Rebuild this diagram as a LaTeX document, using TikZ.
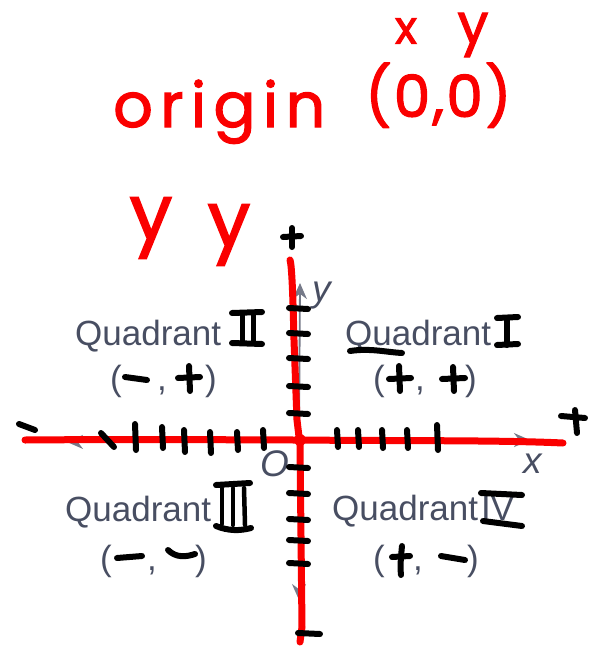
\documentclass[tikz,border=0pt]{standalone}
\usepackage{fontspec}
\setmainfont{Liberation Sans}
\newfontfamily\handfont[LetterSpace=12,FakeBold=2]{Poppins}
\newfontfamily\handfontb[LetterSpace=4,FakeBold=2]{Poppins}
\usetikzlibrary{arrows.meta}
\definecolor{txtgray}{RGB}{72,78,98}
\definecolor{penred}{RGB}{250,0,0}
\begin{document}
\begin{tikzpicture}[x=1pt,y=-1pt,
  redpen/.style={draw=penred,line width=7pt,line cap=round,line join=round},
  blackpen/.style={draw=black,line width=6pt,line cap=round,line join=round},
  grayaxis/.style={draw=txtgray!75,line width=1.8pt},
  grayarrow/.style={-{Stealth[length=16pt,width=14pt]}},
  qtext/.style={text=txtgray,font=\fontsize{35}{40}\selectfont,inner sep=0pt},
  lbltext/.style={text=txtgray,font=\fontsize{37}{40}\selectfont\itshape,inner sep=0pt},
  redtext/.style={text=penred,inner sep=0pt},
]
\useasboundingbox (0,0) rectangle (589,646);

% ---------- printed (gray) coordinate plane ----------
\coordinate (xl) at (67,442);
\coordinate (xr) at (530,440);
\coordinate (yt) at (300,283);
\coordinate (yb) at (299,600);
\coordinate (oo) at (299,441);
\draw[grayaxis,grayarrow] (oo) -- (xl);
\draw[grayaxis,grayarrow] (oo) -- (xr);
\draw[grayaxis,grayarrow] (oo) -- (yt);
\draw[grayaxis,grayarrow] (oo) -- (yb);

\node[lbltext] (ylbl) at (322,296) {y};
\node[lbltext] (xlbl) at (533,464) {x};
\node[lbltext] (olbl) at (275,464) {O};

% quadrant captions
\node[qtext,anchor=base west] (q2) at (75,345) {Quadrant};
\node[qtext,anchor=base west] (q1) at (345,345) {Quadrant};
\node[qtext,anchor=base west] (q3) at (65,521) {Quadrant};
\node[qtext,anchor=base west] (q4) at (332,520) {Quadrant};
\node[qtext,anchor=base west] (q4n) at (481,520) {IV};

% parentheses and commas
\node[qtext,anchor=base west] (p2l) at (110,390) {(};
\node[qtext,anchor=base west] (p2c) at (157,390) {,};
\node[qtext,anchor=base east] (p2r) at (217,390) {)};
\node[qtext,anchor=base west] (p1l) at (373,390) {(};
\node[qtext,anchor=base west] (p1c) at (415,390) {,};
\node[qtext,anchor=base east] (p1r) at (477,390) {)};
\node[qtext,anchor=base west] (p3l) at (100,570) {(};
\node[qtext,anchor=base west] (p3c) at (147,570) {,};
\node[qtext,anchor=base east] (p3r) at (207,570) {)};
\node[qtext,anchor=base west] (p4l) at (373,570) {(};
\node[qtext,anchor=base west] (p4c) at (413,570) {,};
\node[qtext,anchor=base east] (p4r) at (479,570) {)};

% ---------- red pen ----------
\draw[redpen] (25,440) .. controls (150,439) and (250,440) .. (300,440)
  .. controls (400,441) and (500,440) .. (563,443);
\draw[redpen] (290,260) .. controls (292,266) and (293,300) .. (294,340)
  -- (297,420) -- (300,445) -- (302,627) -- (300,642);
\fill[penred] (300,440) circle (6pt);

\node[redtext,anchor=base west] (origin) at (113,127)
  {\fontsize{62}{70}\selectfont\handfont origin};
\node[redtext,anchor=base west] (zero) at (365,117)
  {\fontsize{58}{70}\selectfont\handfontb (0,0)};
\node[redtext] (xhand) at (406,31) {\fontsize{46}{50}\selectfont\handfontb x};
\node[redtext] (yhand) at (473,35) {\fontsize{55}{60}\selectfont\handfontb y};
\node[redtext] (y1hand) at (151,228) {\fontsize{76}{80}\selectfont\handfontb y};
\node[redtext] (y2hand) at (229,235) {\fontsize{76}{80}\selectfont\handfontb y};

% ---------- black pen ----------
% axis signs
\draw[blackpen] (283,237) -- (301,236);
\draw[blackpen] (292,228) -- (292,247);
\draw[blackpen] (298,633) -- (320,634);
\draw[blackpen] (19,424) -- (35,430);
\draw[blackpen] (561,416) -- (585,418);
\draw[blackpen] (575,410) -- (577,433);

% ticks on the y-axis
\foreach \yy in {308,333,358,386,413,467,493,519,540,563}
  \draw[blackpen] (289,\yy) -- (308,\yy+1);
% ticks on the x-axis
\draw[blackpen] (101,433) -- (114,447);
\foreach \xx/\ya/\yb in {135/424/450,162/427/448,184/430/452,210/432/453,237/432/450,263/430/448,
  337/430/447,358/430/447,382/430/448,407/430/448,437/425/450}
  \draw[blackpen] (\xx,\ya) -- (\xx+1,\yb);

% Roman numerals
\draw[blackpen] (232,313) -- (262,312);
\draw[blackpen] (232,343) -- (262,344);
\draw[blackpen,line width=5pt] (242,313) -- (242,343);
\draw[blackpen,line width=5pt] (253,313) -- (253,343);

\draw[blackpen] (497,318) -- (518,317);
\draw[blackpen] (497,345) -- (518,344);
\draw[blackpen] (507,318) -- (507,345);
\draw[blackpen] (350,351) .. controls (370,348) and (385,352) .. (402,353);

\draw[blackpen] (216,485) -- (250,483);
\draw[blackpen] (216,526) .. controls (228,531) and (240,531) .. (251,528);
\draw[blackpen,line width=4.5pt] (222,488) -- (222,524);
\draw[blackpen,line width=4.5pt] (233,488) -- (233,525);
\draw[blackpen,line width=4.5pt] (244,488) -- (245,525);

\draw[blackpen] (481,493) -- (522,495);
\draw[blackpen] (483,521) -- (522,526);

% signs inside the parentheses
\draw[blackpen] (125,377) -- (147,380);
\draw[blackpen] (178,378) -- (200,377);
\draw[blackpen] (189,366) -- (190,391);

\draw[blackpen] (389,379) -- (411,378);
\draw[blackpen] (399,366) -- (400,391);
\draw[blackpen] (442,379) -- (465,378);
\draw[blackpen] (453,367) -- (454,391);

\draw[blackpen] (117,558) -- (142,556);
\draw[blackpen] (168,550) .. controls (176,558) and (186,557) .. (195,554);

\draw[blackpen] (392,557) -- (410,556);
\draw[blackpen] (402,546) .. controls (401,556) and (400,566) .. (401,575);
\draw[blackpen] (441,556) -- (465,560);
\end{tikzpicture}
\end{document}
